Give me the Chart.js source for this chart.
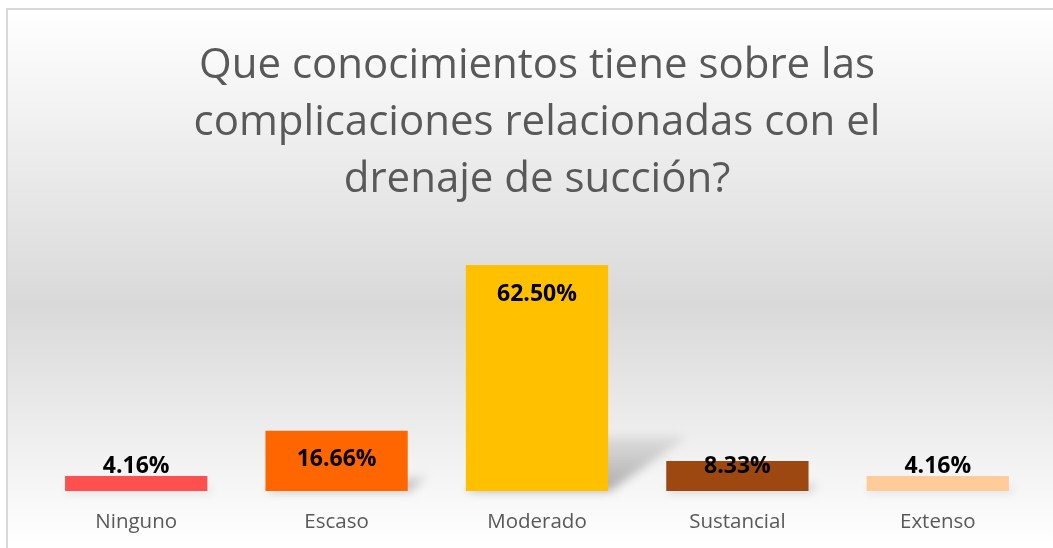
<!DOCTYPE html>
<html>
<head>
<meta charset="utf-8">
<script src="https://cdn.jsdelivr.net/npm/chart.js@4.4.1/dist/chart.umd.min.js"></script>
<style>
  html, body { margin: 0; padding: 0; background: #fff; }
  #wrap { width: 1053px; height: 548px; position: relative; }
</style>
</head>
<body>
<div id="wrap"><canvas id="chart01"></canvas></div>
<script>
// datos
var categories = ["Ninguno", "Escaso", "Moderado", "Sustancial", "Extenso"];
var values = [4.16, 16.66, 62.50, 8.33, 4.16];
var valueLabels = ["4.16%", "16.66%", "62.50%", "8.33%", "4.16%"];
var titleLines = ["Que conocimientos tiene sobre las", "complicaciones relacionadas con el", "drenaje de succión?"];

var barColors = ["#FF5050", "#FF6600", "#FFC000", "#9E4811", "#FFCC99"];

// fondo con degradado y borde
var bgPlugin = {
  id: 'bgPlugin',
  beforeDraw: function (chart) {
    var ctx = chart.ctx;
    var h = chart.height;
    var g = ctx.createLinearGradient(0, 9, 0, h);
    g.addColorStop(0, '#ffffff');
    g.addColorStop(0.55, '#d9d9d9');
    g.addColorStop(0.92, '#f9f9f9');
    g.addColorStop(1, '#ffffff');
    ctx.save();
    ctx.fillStyle = g;
    ctx.fillRect(7, 9, chart.width, h);
    ctx.strokeStyle = '#d9d9d9';
    ctx.lineWidth = 2;
    ctx.beginPath();
    ctx.moveTo(7, h + 5);
    ctx.lineTo(7, 9);
    ctx.lineTo(chart.width + 5, 9);
    ctx.stroke();
    ctx.restore();
  }
};

// sombra en perspectiva detras de las barras
var shadowPlugin = {
  id: 'shadowPlugin',
  beforeDatasetsDraw: function (chart) {
    var ctx = chart.ctx;
    var meta = chart.getDatasetMeta(0);
    ctx.save();
    ctx.filter = 'blur(5px)';
    meta.data.forEach(function (bar) {
      var half = bar.width / 2;
      var hgt = bar.base - bar.y;
      var dx = hgt * 0.35, dy = hgt * 0.24;
      var g = ctx.createLinearGradient(0, bar.base, 0, bar.base - dy);
      g.addColorStop(0, 'rgba(0,0,0,0.3)');
      g.addColorStop(1, 'rgba(0,0,0,0.07)');
      ctx.fillStyle = g;
      ctx.beginPath();
      ctx.moveTo(bar.x - half, bar.base);
      ctx.lineTo(bar.x + half + 2, bar.base);
      ctx.lineTo(bar.x + half + dx, bar.base - dy);
      ctx.lineTo(bar.x - half + dx, bar.base - dy);
      ctx.closePath();
      ctx.fill();
    });
    ctx.restore();
  }
};

// etiquetas de datos
var labelPlugin = {
  id: 'labelPlugin',
  afterDatasetsDraw: function (chart) {
    var ctx = chart.ctx;
    var meta = chart.getDatasetMeta(0);
    ctx.save();
    ctx.font = 'bold 23px "Open Sans"';
    ctx.fillStyle = '#000000';
    ctx.textAlign = 'center';
    ctx.textBaseline = 'middle';
    meta.data.forEach(function (bar, i) {
      var y = Math.min(bar.y + 29, bar.base - 25);
      ctx.fillText(valueLabels[i], bar.x, y);
    });
    ctx.restore();
  }
};

var ctx = document.getElementById('chart01').getContext('2d');
var chart = new Chart(ctx, {
  type: 'bar',
  data: {
    labels: categories,
    datasets: [{
      data: values,
      backgroundColor: barColors,
      borderWidth: 0,
      barPercentage: 0.71,
      categoryPercentage: 1.0
    }]
  },
  options: {
    responsive: true,
    maintainAspectRatio: false,
    animation: false,
    layout: {
      padding: { left: 36, right: 15, top: 0, bottom: 0 }
    },
    plugins: {
      legend: { display: false },
      tooltip: { enabled: false },
      title: {
        display: true,
        text: titleLines,
        color: '#595959',
        font: { family: '"Open Sans"', size: 42, weight: 'normal', lineHeight: 1.357 },
        padding: { top: 38, bottom: 29 }
      }
    },
    scales: {
      x: {
        grid: { display: false },
        border: { display: false },
        ticks: {
          color: '#595959',
          font: { family: '"Open Sans"', size: 20.5 },
          padding: 11
        },
        afterFit: function (scale) { scale.height = 57; }
      },
      y: {
        display: false,
        min: 0,
        max: 70
      }
    }
  },
  plugins: [bgPlugin, shadowPlugin, labelPlugin]
});
</script>
</body>
</html>
